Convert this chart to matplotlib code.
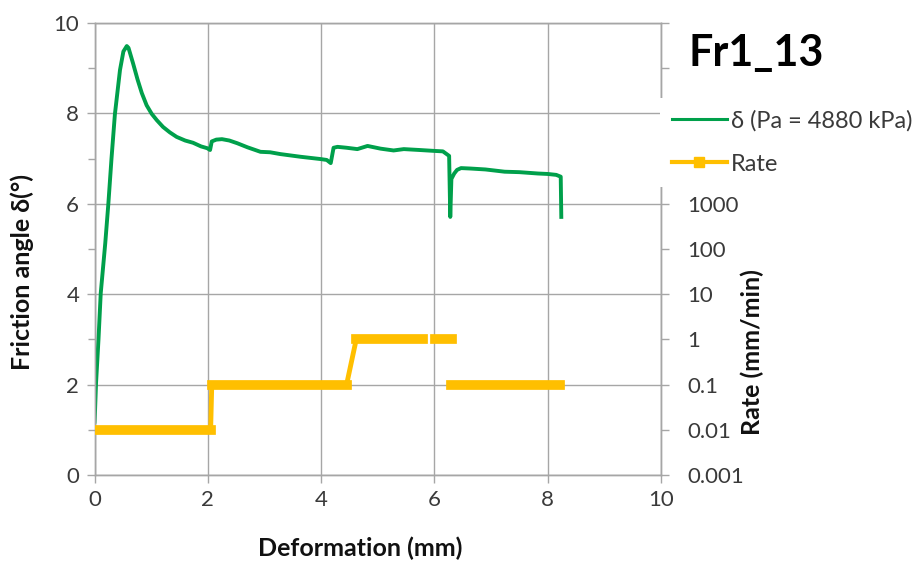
import numpy as np
import matplotlib
matplotlib.use("Agg")
import matplotlib.pyplot as plt
from matplotlib.lines import Line2D
from matplotlib.ticker import FixedLocator, MultipleLocator

# ---- data -------------------------------------------------------------
# friction angle vs. deformation
deformation_mm = [0.00, 0.01, 0.027, 0.07, 0.11, 0.19, 0.245, 0.30, 0.36, 0.45,
                  0.51, 0.57, 0.60, 0.68, 0.76, 0.835, 0.92, 1.01, 1.10, 1.21,
                  1.33, 1.45, 1.60, 1.74, 1.88, 1.99, 2.04, 2.07, 2.15, 2.25,
                  2.38, 2.52, 2.70, 2.93, 3.10, 3.28, 3.64, 3.99, 4.10, 4.17,
                  4.22, 4.29, 4.45, 4.64, 4.82, 5.05, 5.28, 5.46, 5.74, 6.00,
                  6.15, 6.26, 6.28, 6.30, 6.35, 6.40, 6.47, 6.64, 6.90, 7.24,
                  7.50, 7.83, 8.00, 8.15, 8.23, 8.24]
friction_angle = [1.18, 1.44, 2.03, 2.99, 4.02, 5.13, 6.01, 7.00, 7.98, 8.96,
                  9.37, 9.49, 9.45, 9.11, 8.75, 8.45, 8.18, 7.99, 7.85, 7.70,
                  7.58, 7.48, 7.40, 7.35, 7.27, 7.23, 7.19, 7.38, 7.42, 7.43,
                  7.40, 7.34, 7.25, 7.15, 7.14, 7.10, 7.04, 6.99, 6.97, 6.90,
                  7.24, 7.26, 7.24, 7.21, 7.28, 7.22, 7.18, 7.21, 7.19, 7.17,
                  7.16, 7.06, 5.71, 6.55, 6.67, 6.75, 6.79, 6.78, 6.76, 6.71,
                  6.70, 6.67, 6.66, 6.64, 6.60, 5.71]

# shear rate stages (mm/min)
rate_start = [0.00, 2.07, 4.62, 6.01, 6.29]
rate_end = [2.05, 4.45, 5.79, 6.31, 8.21]
rate_value = [0.01, 0.1, 1.0, 1.0, 0.1]
rate_linked = [True, True, False, False]   # stage i joined to stage i+1

rate_ticks = [1e-3, 1e-2, 1e-1, 1, 10, 100, 1000, 1e4, 1e5, 1e6, 1e7]
rate_ticklabels = ["0.001", "0.01", "0.1", "1", "10", "100", "1000", "", "", "", ""]

# ---- style ------------------------------------------------------------
plt.rcParams["font.family"] = ["Lato", "DejaVu Sans"]
GREEN = "#00A04B"
GOLD = "#FFBF00"
GRID = "#A6A6A6"
TXT = "#3A3A3A"
TICK_FS = 16
LABEL_FS = 18

fig = plt.figure(figsize=(9.22, 5.68), dpi=100)
W, H = 922, 568
ax = fig.add_axes([94.5 / W, 1 - 475 / H, (661 - 94.5) / W, (475 - 23) / H])
ax2 = ax.twinx()

# friction angle curve
ax.plot(deformation_mm, friction_angle, color=GREEN, lw=2.8, zorder=3)
ax.set_xlim(0, 10)
ax.set_ylim(0, 10)
ax.xaxis.set_major_locator(MultipleLocator(2))
ax.yaxis.set_major_locator(MultipleLocator(2))
ax.yaxis.set_minor_locator(MultipleLocator(1))
ax.grid(True, which="major", color=GRID, lw=1.0)
ax.set_axisbelow(True)
ax.tick_params(axis="both", which="both", direction="out", color=GRID,
               labelcolor=TXT, labelsize=TICK_FS, width=1.0)
ax.tick_params(axis="both", which="major", length=6, pad=5)
ax.tick_params(axis="y", which="minor", length=5)
ax.tick_params(axis="x", which="minor", length=0)
for sp in ax.spines.values():
    sp.set_color(GRID)
    sp.set_linewidth(1.0)

ax.set_xlabel("Deformation (mm)", fontsize=LABEL_FS, fontweight="bold",
              color="#111111", va="center")
ax.xaxis.set_label_coords(0.469, -0.163)
ax.set_ylabel("Friction angle δ(°)", fontsize=LABEL_FS, fontweight="bold",
              color="#111111", va="center")
ax.yaxis.set_label_coords(-0.128, 0.449)

# shear rate stages on the log axis
ax2.set_yscale("log")
ax2.set_ylim(1e-3, 1e7)
for i in range(len(rate_value)):
    ax2.plot([rate_start[i], rate_end[i]], [rate_value[i], rate_value[i]],
             color=GOLD, lw=7, solid_capstyle="projecting", zorder=3)
for i, linked in enumerate(rate_linked):
    if linked:
        ax2.plot([rate_end[i], rate_start[i + 1]], [rate_value[i], rate_value[i + 1]],
                 color=GOLD, lw=3.5, solid_capstyle="butt", zorder=3)

ax2.yaxis.set_major_locator(FixedLocator(rate_ticks))
ax2.set_yticklabels(rate_ticklabels)
ax2.yaxis.set_minor_locator(FixedLocator([]))
ax2.tick_params(axis="y", which="major", direction="out", length=6, width=1.0,
                color=GRID, labelcolor=TXT, labelsize=TICK_FS, pad=13)
for sp in ax2.spines.values():
    sp.set_color(GRID)
    sp.set_linewidth(1.0)
ax2.set_ylabel("Rate (mm/min)", fontsize=LABEL_FS, fontweight="bold",
               color="#111111", va="center")
ax2.yaxis.set_label_coords(1.162, 0.272)

# legend and title
handles = [Line2D([], [], color=GREEN, lw=2.2),
           Line2D([], [], color=GOLD, lw=3, marker="s", ms=6.5)]
labels = ["δ (Pa = 4880 kPa)", "Rate"]
leg = ax2.legend(handles, labels, loc="upper left",
                 bbox_to_anchor=(660 / W, 1 - 98 / H), bbox_transform=fig.transFigure,
                 borderaxespad=0, frameon=True, facecolor="white", edgecolor="none",
                 framealpha=1, fancybox=False, borderpad=0.5, handlelength=2.33,
                 handletextpad=0.17, labelspacing=0.95, fontsize=17)
for t in leg.get_texts():
    t.set_color(TXT)

fig.text(688 / W, 1 - 66 / H, "Fr1_13", fontsize=31, fontweight="bold",
         color="#000000", ha="left", va="baseline")

fig.savefig("out.png", dpi=100)
